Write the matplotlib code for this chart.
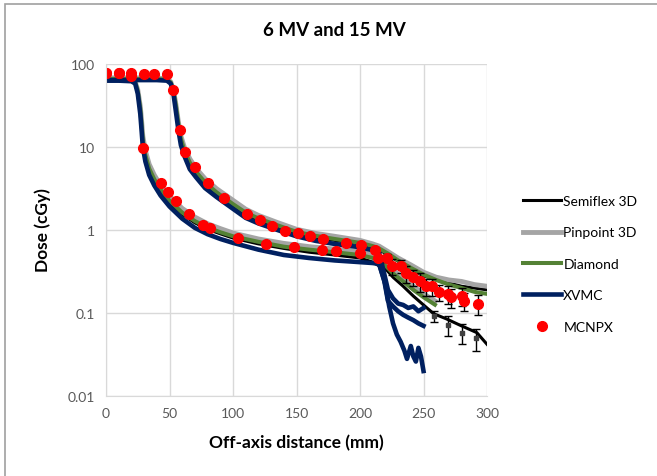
import matplotlib
matplotlib.use('Agg')
from matplotlib import pyplot as plt
from matplotlib.patches import Rectangle

plt.rcParams['font.family'] = ['Lato', 'DejaVu Sans']

# 6 MV profiles (common part up to 215 mm)
x6 = [0, 10, 20, 23, 25, 27, 28, 29, 31, 34, 38, 43, 50, 60, 70, 80, 90, 100, 120, 140, 160, 180, 200, 210, 215]
semi6 = [66, 66, 65, 60, 47, 28, 18, 11.5, 7.6, 5.2, 3.9, 2.9, 2.15, 1.55, 1.22, 1.02, 0.9, 0.8, 0.68, 0.6, 0.54, 0.5, 0.46, 0.41, 0.37]
pin6 = [67, 67, 66, 61, 49, 31, 21, 13.5, 9.0, 6.2, 4.6, 3.45, 2.55, 1.82, 1.43, 1.19, 1.04, 0.92, 0.78, 0.69, 0.63, 0.59, 0.55, 0.5, 0.47]
dia6 = [66, 66, 65, 60, 47, 29, 19, 12, 8.0, 5.5, 4.1, 3.05, 2.25, 1.62, 1.28, 1.07, 0.94, 0.84, 0.72, 0.63, 0.58, 0.54, 0.5, 0.46, 0.43]
xvmc6 = [63, 63, 62, 58, 44, 25, 16, 10, 6.7, 4.6, 3.45, 2.6, 1.92, 1.37, 1.06, 0.89, 0.78, 0.7, 0.58, 0.5, 0.46, 0.43, 0.41, 0.40, 0.39]

# 6 MV tails
semi6_tx = [221, 226, 234, 242, 250, 258, 268, 279, 292, 300]
semi6_ty = [0.33, 0.27, 0.21, 0.16, 0.125, 0.098, 0.085, 0.071, 0.058, 0.042]
pin6_tx = [221, 226, 234, 242, 250, 259]
pin6_ty = [0.39, 0.33, 0.26, 0.21, 0.17, 0.14]
dia6_tx = [221, 226, 234, 242, 250, 259]
dia6_ty = [0.36, 0.3, 0.24, 0.19, 0.155, 0.126]
xvmc6_tx = [220, 223, 226, 229, 232, 235, 237, 240, 242, 244, 246, 248, 250]
xvmc6_ty = [0.22, 0.12, 0.075, 0.055, 0.045, 0.035, 0.028, 0.04, 0.03, 0.026, 0.038, 0.03, 0.02]

# 15 MV profiles (common part up to 215 mm)
x15 = [0, 10, 20, 30, 40, 48, 51, 53, 55, 57, 59, 62, 66, 71, 78, 87, 100, 110, 120, 135, 150, 165, 180, 200, 210, 215]
semi15 = [67, 67, 67, 67, 67, 65, 60, 48, 31, 18, 12, 8.4, 6.2, 4.8, 3.6, 2.75, 1.95, 1.55, 1.32, 1.1, 0.92, 0.82, 0.75, 0.68, 0.62, 0.58]
pin15 = [68, 68, 68, 68, 68, 66, 61, 49, 33, 20, 13.5, 9.6, 7.2, 5.5, 4.15, 3.15, 2.28, 1.78, 1.5, 1.23, 1.02, 0.91, 0.84, 0.75, 0.68, 0.64]
dia15 = [66, 66, 66, 66, 66, 65, 60, 48, 32, 19, 12.5, 8.8, 6.5, 5.0, 3.75, 2.85, 2.05, 1.62, 1.38, 1.14, 0.95, 0.85, 0.78, 0.7, 0.64, 0.6]
xvmc15 = [64, 64, 64, 64, 64, 63, 58, 45, 27, 16, 10.5, 7.6, 5.4, 4.3, 3.2, 2.5, 1.8, 1.4, 1.2, 1.0, 0.84, 0.74, 0.68, 0.62, 0.57, 0.54]

# 15 MV tails
tx15 = [222, 230, 240, 250, 260, 270, 280, 290, 300]
semi15_ty = [0.5, 0.42, 0.34, 0.28, 0.25, 0.23, 0.21, 0.2, 0.19]
pin15_ty = [0.55, 0.46, 0.38, 0.31, 0.27, 0.25, 0.24, 0.22, 0.21]
dia15_ty = [0.52, 0.43, 0.35, 0.29, 0.25, 0.22, 0.2, 0.18, 0.17]
xvmc15_tx = [219, 222, 226, 230, 234, 238, 242, 246, 250]
xvmc15_ty = [0.3, 0.19, 0.15, 0.13, 0.125, 0.115, 0.12, 0.105, 0.115]

# extra XVMC tail
xvmc_b_x = [215, 219, 222, 226, 230, 234, 238, 242, 246, 250]
xvmc_b_y = [0.40, 0.25, 0.14, 0.12, 0.105, 0.095, 0.088, 0.082, 0.075, 0.07]

# MCNPX
mc6_x = [0, 10, 20, 29, 43, 49, 55, 65, 76, 82, 104, 126, 148, 170, 181, 200, 214, 225, 236, 247, 257, 269, 280, 293]
mc6_y = [77, 77, 71, 9.6, 3.7, 2.9, 2.25, 1.55, 1.15, 1.06, 0.79, 0.68, 0.63, 0.58, 0.56, 0.53, 0.46, 0.37, 0.30, 0.24, 0.21, 0.17, 0.16, 0.13]
mc6_err = [0, 0, 0, 0, 0, 0, 0, 0, 0, 0, 0, 0, 0, 0, 0, 0, 0.03, 0.08, 0.07, 0.06, 0.05, 0.04, 0.04, 0.035]
mc15_x = [0, 10, 20, 30, 38, 48, 53, 58, 62, 70, 80, 93, 111, 121, 131, 141, 151, 161, 171, 189, 201, 212, 221, 232, 242, 252, 262, 272, 282]
mc15_y = [77, 77, 77, 76, 76, 75, 48, 16, 8.8, 5.8, 3.7, 2.4, 1.57, 1.32, 1.13, 0.97, 0.91, 0.85, 0.77, 0.70, 0.66, 0.58, 0.46, 0.37, 0.27, 0.21, 0.18, 0.155, 0.14]
mc15_err = [0, 0, 0, 0, 0, 0, 0, 0, 0, 0, 0, 0, 0, 0, 0, 0, 0, 0, 0, 0, 0, 0.03, 0.05, 0.07, 0.06, 0.05, 0.04, 0.04, 0.035]

# error bars on semiflex tail
se_x = [258, 269, 280, 291]
se_y = [0.092, 0.072, 0.058, 0.05]
se_err = [0.014, 0.019, 0.016, 0.015]

c_semi = '#000000'
c_pin = '#a5a5a5'
c_dia = '#548235'
c_xvmc = '#002060'

fig = plt.figure(figsize=(6.57, 4.77), dpi=100)
fig.patches.append(Rectangle((5 / 657, -0.1), 1.2, 1 - 5 / 477 + 0.1, transform=fig.transFigure,
                             fill=False, edgecolor='#a0a0a0', linewidth=1.2))
ax = fig.add_axes([106 / 657, 1 - 397 / 477, 381 / 657, 332 / 477])

ax.plot(x6 + semi6_tx, semi6 + semi6_ty, color=c_semi, lw=2.2, label='Semiflex 3D')
ax.plot(x15 + tx15, semi15 + semi15_ty, color=c_semi, lw=2.2)
ax.plot(x6 + pin6_tx, pin6 + pin6_ty, color=c_pin, lw=3.5, label='Pinpoint 3D')
ax.plot(x15 + tx15, pin15 + pin15_ty, color=c_pin, lw=3.5)
ax.plot(x6 + dia6_tx, dia6 + dia6_ty, color=c_dia, lw=2.9, label='Diamond')
ax.plot(x15 + tx15, dia15 + dia15_ty, color=c_dia, lw=2.9)
ax.plot(x6 + xvmc6_tx, xvmc6 + xvmc6_ty, color=c_xvmc, lw=3.3, label='XVMC')
ax.plot(x15 + xvmc15_tx, xvmc15 + xvmc15_ty, color=c_xvmc, lw=3.3)
ax.plot(xvmc_b_x, xvmc_b_y, color=c_xvmc, lw=3.3)

ax.errorbar(se_x, se_y, yerr=se_err, fmt='s', ms=2.5, color='#404040', ecolor='black',
            elinewidth=1, capsize=3)
ax.errorbar(mc6_x, mc6_y, yerr=mc6_err, fmt='none', ecolor='black', elinewidth=1, capsize=3)
ax.errorbar(mc15_x, mc15_y, yerr=mc15_err, fmt='none', ecolor='black', elinewidth=1, capsize=3)
ax.plot(mc6_x, mc6_y, 'o', color='#ff0000', ms=7, label='MCNPX')
ax.plot(mc15_x, mc15_y, 'o', color='#ff0000', ms=7)

ax.set_yscale('log')
ax.set_xlim(0, 300)
ax.set_ylim(0.01, 100)
ax.set_xticks([0, 50, 100, 150, 200, 250, 300])
ax.set_yticks([0.01, 0.1, 1, 10, 100])
ax.set_yticklabels(['0.01', '0.1', '1', '10', '100'])
ax.minorticks_off()
ax.tick_params(length=0, labelsize=10, labelcolor='#595959', pad=8)
ax.grid(True, color='#d9d9d9', lw=1)
ax.set_axisbelow(True)
for s in ['top', 'right']:
    ax.spines[s].set_visible(False)
for s in ['left', 'bottom']:
    ax.spines[s].set_color('#d9d9d9')

fig.text(334 / 657, 1 - 31 / 477, '6 MV and 15 MV', ha='center', va='center', fontsize=13.5, fontweight='bold')
fig.text(296 / 657, 1 - 443 / 477, 'Off-axis distance (mm)', ha='center', va='center',
         fontsize=12.5, fontweight='bold')
fig.text(43 / 657, 1 - 230 / 477, 'Dose (cGy)', ha='center', va='center', rotation=90,
         fontsize=12.5, fontweight='bold')

fig.legend(loc='upper left', bbox_to_anchor=(523 / 657, 1 - 196 / 477), frameon=False,
           fontsize=10, handlelength=2.7, handletextpad=0.2, labelspacing=1.4,
           borderpad=0, borderaxespad=0, numpoints=1)

plt.savefig('out.png', dpi=100)
